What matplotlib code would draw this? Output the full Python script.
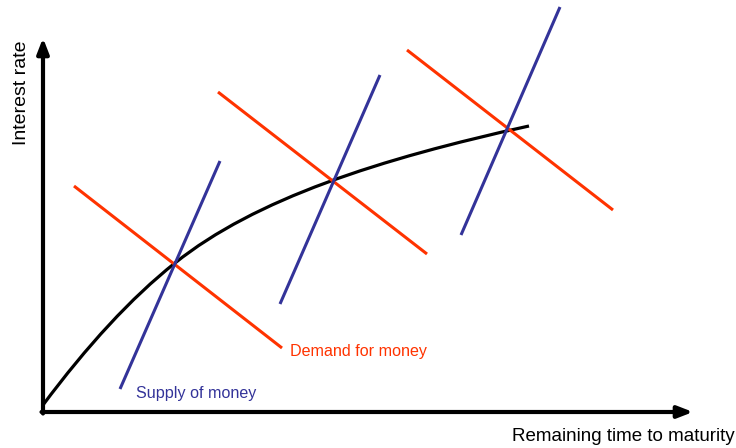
import matplotlib
matplotlib.use('Agg')
import matplotlib.pyplot as plt
from matplotlib.path import Path
from matplotlib.patches import PathPatch

plt.rcParams['font.family'] = ['Liberation Sans Narrow', 'Liberation Sans', 'DejaVu Sans']

# yield curve as two cubic Bezier pieces (time to maturity, interest rate):
# start, control, control, join, control, control, end
curve_t = [0, 44, 88, 132, 212, 336, 486]
curve_r = [7, 66, 114, 149, 213, 253, 286]

# demand-for-money lines (start, end)
demand_t = [[31, 239], [175, 384], [364, 570]]
demand_r = [[226, 64], [320, 158], [362, 202]]

# supply-of-money lines (start, end)
supply_t = [[77, 177], [237, 337], [418, 517]]
supply_r = [[23, 251], [108, 337], [177, 405]]

red = '#FF3300'
blue = '#333399'

fig = plt.figure(figsize=(7.36, 4.48), dpi=100)
ax = fig.add_axes([0, 0, 1, 1])
ax.set_xlim(-43, 693)
ax.set_ylim(-36, 412)
ax.axis('off')

# axes with arrows
ax.annotate('', xy=(650, 0), xytext=(-1.5, 0),
            arrowprops=dict(arrowstyle='-|>,head_length=0.9,head_width=0.35',
                            lw=3, color='black', shrinkA=0, shrinkB=0))
ax.annotate('', xy=(0, 374), xytext=(0, -1.5),
            arrowprops=dict(arrowstyle='-|>,head_length=0.9,head_width=0.35',
                            lw=3, color='black', shrinkA=0, shrinkB=0))

codes = [Path.MOVETO] + [Path.CURVE4] * 6
curve = Path(list(zip(curve_t, curve_r)), codes)
ax.add_patch(PathPatch(curve, facecolor='none', edgecolor='black', lw=2.3,
                       capstyle='butt', zorder=2))
for t, r in zip(demand_t, demand_r):
    ax.plot(t, r, color=red, lw=2.2, solid_capstyle='butt', zorder=3)
for t, r in zip(supply_t, supply_r):
    ax.plot(t, r, color=blue, lw=2.2, solid_capstyle='butt', zorder=4)

ax.text(247, 61, 'Demand for money', color=red, fontsize=11.6, va='center', ha='left')
ax.text(93, 19, 'Supply of money', color=blue, fontsize=11.6, va='center', ha='left')
ax.text(692, -24, 'Remaining time to maturity', color='black', fontsize=13.5,
        va='center', ha='right')
ax.text(-21, 319, 'Interest rate', color='black', fontsize=14, rotation=90,
        va='center', ha='center')

fig.savefig('out.png', dpi=100)
